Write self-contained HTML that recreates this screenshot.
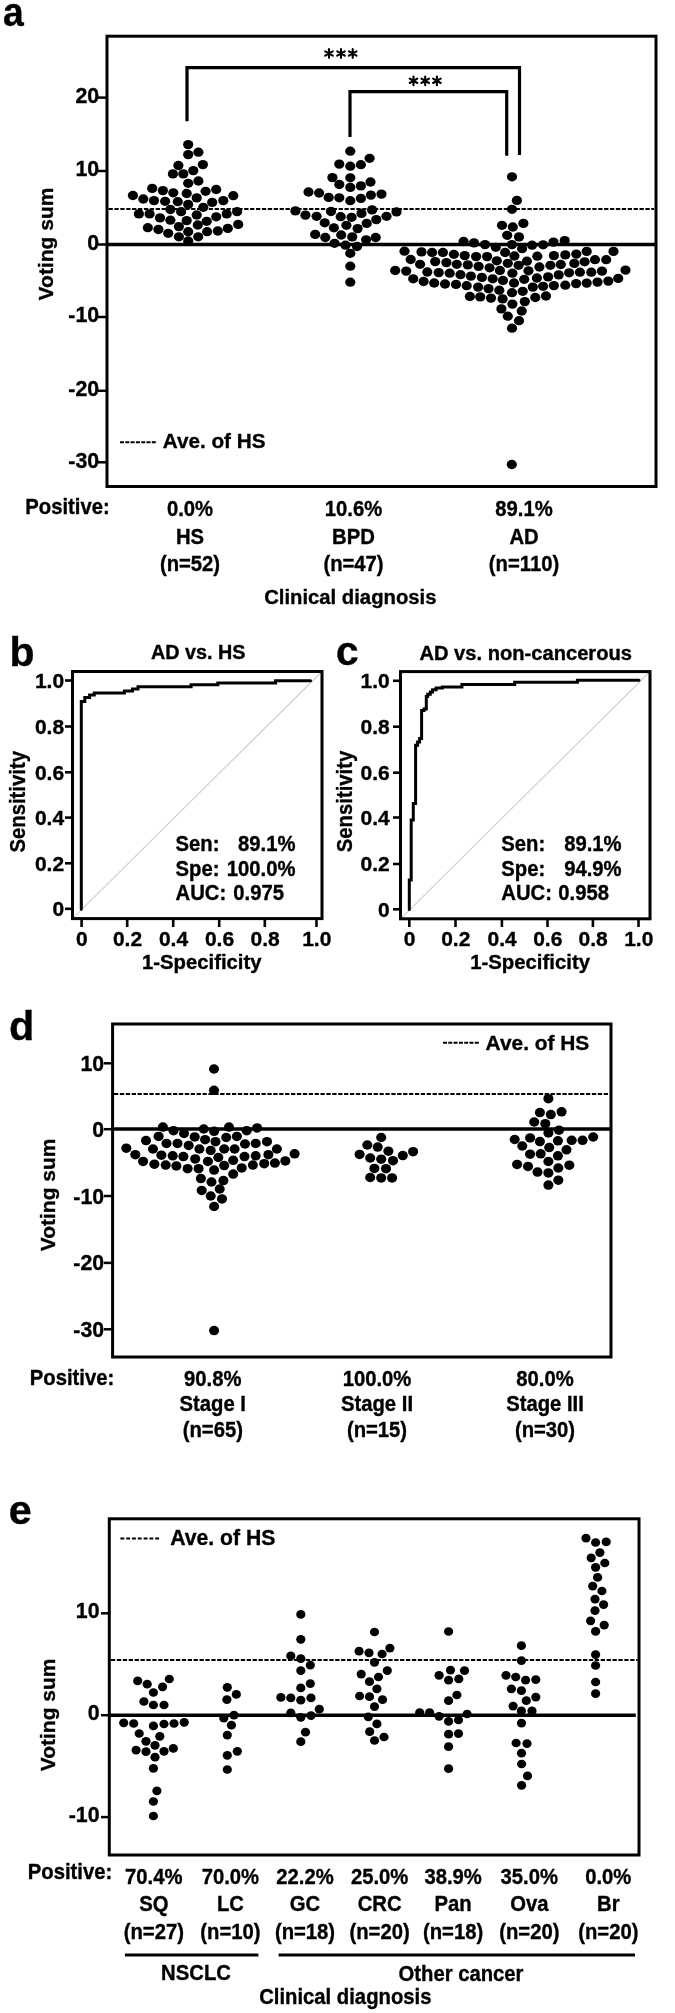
<!DOCTYPE html>
<html><head><meta charset="utf-8"><style>
html,body{margin:0;padding:0;background:#fff;}
svg{display:block;will-change:transform;}
text{font-family:"Liberation Sans", sans-serif;font-weight:bold;fill:#000;stroke:#000;stroke-width:0.35px;}
</style></head><body>
<svg width="675" height="2013" viewBox="0 0 675 2013">
<rect width="675" height="2013" fill="#fff"/>
<rect x="107" y="36.2" width="549" height="450.3" fill="none" stroke="#000" stroke-width="3"/>
<line x1="107" y1="244.5" x2="656" y2="244.5" stroke="#000" stroke-width="3.5" />
<line x1="108.5" y1="209" x2="654" y2="209" stroke="#000" stroke-width="2" stroke-dasharray="4.3 1.6"/>
<line x1="98" y1="97.6" x2="107" y2="97.6" stroke="#000" stroke-width="2.5" />
<line x1="98" y1="171" x2="107" y2="171" stroke="#000" stroke-width="2.5" />
<line x1="98" y1="244.5" x2="107" y2="244.5" stroke="#000" stroke-width="2.5" />
<line x1="98" y1="317" x2="107" y2="317" stroke="#000" stroke-width="2.5" />
<line x1="98" y1="390.8" x2="107" y2="390.8" stroke="#000" stroke-width="2.5" />
<line x1="98" y1="462.3" x2="107" y2="462.3" stroke="#000" stroke-width="2.5" />
<text x="99.1" y="103.0" font-size="21.3" text-anchor="end" >20</text>
<text x="99.1" y="176.4" font-size="21.3" text-anchor="end" >10</text>
<text x="99.1" y="249.9" font-size="21.3" text-anchor="end" >0</text>
<text x="99.1" y="322.4" font-size="21.3" text-anchor="end" >-10</text>
<text x="99.1" y="396.2" font-size="21.3" text-anchor="end" >-20</text>
<text x="99.1" y="467.7" font-size="21.3" text-anchor="end" >-30</text>
<text x="0" y="0" font-size="21" text-anchor="middle" transform="translate(53.4,244) rotate(-90)">Voting sum</text>
<path d="M187,121.3V67.6H519.5V155.1" fill="none" stroke="#000" stroke-width="3.2"/>
<path d="M350,137V91.7H506.7V155.7" fill="none" stroke="#000" stroke-width="3.2"/>
<path d="M329.00,49.15L329.00,57.85M325.23,51.33L332.77,55.67M332.77,51.33L325.23,55.67" stroke="#000" stroke-width="2.1" stroke-linecap="round" fill="none"/>
<path d="M341.00,49.15L341.00,57.85M337.23,51.33L344.77,55.67M344.77,51.33L337.23,55.67" stroke="#000" stroke-width="2.1" stroke-linecap="round" fill="none"/>
<path d="M352.70,49.15L352.70,57.85M348.93,51.33L356.47,55.67M356.47,51.33L348.93,55.67" stroke="#000" stroke-width="2.1" stroke-linecap="round" fill="none"/>
<path d="M413.50,76.45L413.50,85.15M409.73,78.62L417.27,82.97M417.27,78.62L409.73,82.97" stroke="#000" stroke-width="2.1" stroke-linecap="round" fill="none"/>
<path d="M425.20,76.45L425.20,85.15M421.43,78.62L428.97,82.97M428.97,78.62L421.43,82.97" stroke="#000" stroke-width="2.1" stroke-linecap="round" fill="none"/>
<path d="M436.90,76.45L436.90,85.15M433.13,78.62L440.67,82.97M440.67,78.62L433.13,82.97" stroke="#000" stroke-width="2.1" stroke-linecap="round" fill="none"/>
<g fill="#000"><ellipse cx="188.2" cy="144.6" rx="5.1" ry="4.65"/><ellipse cx="198.4" cy="152.2" rx="5.1" ry="4.65"/><ellipse cx="188.2" cy="154.6" rx="5.1" ry="4.65"/><ellipse cx="178.4" cy="165.5" rx="5.1" ry="4.65"/><ellipse cx="202.9" cy="164.6" rx="5.1" ry="4.65"/><ellipse cx="172.9" cy="173.9" rx="5.1" ry="4.65"/><ellipse cx="183.3" cy="173.9" rx="5.1" ry="4.65"/><ellipse cx="193.3" cy="170.6" rx="5.1" ry="4.65"/><ellipse cx="188.2" cy="183.3" rx="5.1" ry="4.65"/><ellipse cx="198.4" cy="181.0" rx="5.1" ry="4.65"/><ellipse cx="152.2" cy="188.4" rx="5.1" ry="4.65"/><ellipse cx="162.9" cy="190.6" rx="5.1" ry="4.65"/><ellipse cx="173.3" cy="192.8" rx="5.1" ry="4.65"/><ellipse cx="186.7" cy="193.5" rx="5.1" ry="4.65"/><ellipse cx="205.6" cy="191.3" rx="5.1" ry="4.65"/><ellipse cx="216.2" cy="189.5" rx="5.1" ry="4.65"/><ellipse cx="132.9" cy="195.5" rx="5.1" ry="4.65"/><ellipse cx="143.3" cy="199.0" rx="5.1" ry="4.65"/><ellipse cx="154.0" cy="200.6" rx="5.1" ry="4.65"/><ellipse cx="165.1" cy="201.3" rx="5.1" ry="4.65"/><ellipse cx="177.8" cy="201.7" rx="5.1" ry="4.65"/><ellipse cx="196.7" cy="197.9" rx="5.1" ry="4.65"/><ellipse cx="188.2" cy="204.4" rx="5.1" ry="4.65"/><ellipse cx="212.2" cy="202.4" rx="5.1" ry="4.65"/><ellipse cx="223.3" cy="200.6" rx="5.1" ry="4.65"/><ellipse cx="233.3" cy="195.7" rx="5.1" ry="4.65"/><ellipse cx="170.4" cy="209.5" rx="5.1" ry="4.65"/><ellipse cx="181.1" cy="211.7" rx="5.1" ry="4.65"/><ellipse cx="203.3" cy="207.3" rx="5.1" ry="4.65"/><ellipse cx="138.9" cy="213.9" rx="5.1" ry="4.65"/><ellipse cx="149.6" cy="213.9" rx="5.1" ry="4.65"/><ellipse cx="160.0" cy="217.9" rx="5.1" ry="4.65"/><ellipse cx="170.4" cy="220.2" rx="5.1" ry="4.65"/><ellipse cx="186.7" cy="220.6" rx="5.1" ry="4.65"/><ellipse cx="196.7" cy="215.0" rx="5.1" ry="4.65"/><ellipse cx="206.7" cy="221.3" rx="5.1" ry="4.65"/><ellipse cx="216.2" cy="216.8" rx="5.1" ry="4.65"/><ellipse cx="226.7" cy="213.9" rx="5.1" ry="4.65"/><ellipse cx="237.1" cy="211.7" rx="5.1" ry="4.65"/><ellipse cx="147.8" cy="227.7" rx="5.1" ry="4.65"/><ellipse cx="158.4" cy="229.5" rx="5.1" ry="4.65"/><ellipse cx="168.2" cy="233.3" rx="5.1" ry="4.65"/><ellipse cx="178.9" cy="226.6" rx="5.1" ry="4.65"/><ellipse cx="178.9" cy="236.8" rx="5.1" ry="4.65"/><ellipse cx="188.2" cy="231.7" rx="5.1" ry="4.65"/><ellipse cx="197.8" cy="225.0" rx="5.1" ry="4.65"/><ellipse cx="198.2" cy="236.8" rx="5.1" ry="4.65"/><ellipse cx="207.1" cy="231.7" rx="5.1" ry="4.65"/><ellipse cx="217.8" cy="231.0" rx="5.1" ry="4.65"/><ellipse cx="227.8" cy="228.4" rx="5.1" ry="4.65"/><ellipse cx="238.2" cy="224.4" rx="5.1" ry="4.65"/><ellipse cx="188.2" cy="241.0" rx="5.1" ry="4.65"/></g>
<g fill="#000"><ellipse cx="350.3" cy="151.2" rx="5.1" ry="4.65"/><ellipse cx="369.6" cy="158.3" rx="5.1" ry="4.65"/><ellipse cx="339.3" cy="164.1" rx="5.1" ry="4.65"/><ellipse cx="350.3" cy="166.2" rx="5.1" ry="4.65"/><ellipse cx="360.9" cy="164.7" rx="5.1" ry="4.65"/><ellipse cx="332.4" cy="177.6" rx="5.1" ry="4.65"/><ellipse cx="350.3" cy="177.8" rx="5.1" ry="4.65"/><ellipse cx="339.3" cy="184.5" rx="5.1" ry="4.65"/><ellipse cx="350.3" cy="187.4" rx="5.1" ry="4.65"/><ellipse cx="360.9" cy="185.9" rx="5.1" ry="4.65"/><ellipse cx="370.5" cy="182.0" rx="5.1" ry="4.65"/><ellipse cx="308.5" cy="192.0" rx="5.1" ry="4.65"/><ellipse cx="319.1" cy="193.0" rx="5.1" ry="4.65"/><ellipse cx="328.7" cy="197.4" rx="5.1" ry="4.65"/><ellipse cx="339.3" cy="197.8" rx="5.1" ry="4.65"/><ellipse cx="350.3" cy="200.7" rx="5.1" ry="4.65"/><ellipse cx="360.9" cy="198.4" rx="5.1" ry="4.65"/><ellipse cx="370.9" cy="195.1" rx="5.1" ry="4.65"/><ellipse cx="381.5" cy="194.1" rx="5.1" ry="4.65"/><ellipse cx="295.4" cy="210.9" rx="5.1" ry="4.65"/><ellipse cx="305.4" cy="215.1" rx="5.1" ry="4.65"/><ellipse cx="316.6" cy="216.3" rx="5.1" ry="4.65"/><ellipse cx="331.0" cy="211.5" rx="5.1" ry="4.65"/><ellipse cx="340.7" cy="216.7" rx="5.1" ry="4.65"/><ellipse cx="351.6" cy="217.3" rx="5.1" ry="4.65"/><ellipse cx="361.5" cy="213.4" rx="5.1" ry="4.65"/><ellipse cx="372.1" cy="209.9" rx="5.1" ry="4.65"/><ellipse cx="386.5" cy="216.3" rx="5.1" ry="4.65"/><ellipse cx="396.5" cy="211.9" rx="5.1" ry="4.65"/><ellipse cx="324.7" cy="222.8" rx="5.1" ry="4.65"/><ellipse cx="333.9" cy="227.8" rx="5.1" ry="4.65"/><ellipse cx="346.4" cy="225.3" rx="5.1" ry="4.65"/><ellipse cx="357.6" cy="228.6" rx="5.1" ry="4.65"/><ellipse cx="366.7" cy="223.4" rx="5.1" ry="4.65"/><ellipse cx="376.3" cy="219.6" rx="5.1" ry="4.65"/><ellipse cx="315.2" cy="234.4" rx="5.1" ry="4.65"/><ellipse cx="325.3" cy="237.5" rx="5.1" ry="4.65"/><ellipse cx="341.2" cy="235.0" rx="5.1" ry="4.65"/><ellipse cx="352.2" cy="236.9" rx="5.1" ry="4.65"/><ellipse cx="366.1" cy="239.8" rx="5.1" ry="4.65"/><ellipse cx="375.7" cy="237.5" rx="5.1" ry="4.65"/><ellipse cx="334.5" cy="243.3" rx="5.1" ry="4.65"/><ellipse cx="345.5" cy="245.2" rx="5.1" ry="4.65"/><ellipse cx="357.0" cy="246.5" rx="5.1" ry="4.65"/><ellipse cx="350.3" cy="253.3" rx="5.1" ry="4.65"/><ellipse cx="350.3" cy="266.2" rx="5.1" ry="4.65"/><ellipse cx="350.3" cy="282.2" rx="5.1" ry="4.65"/></g>
<g fill="#000"><ellipse cx="512.0" cy="176.8" rx="5.1" ry="4.65"/><ellipse cx="516.9" cy="200.4" rx="5.1" ry="4.65"/><ellipse cx="512.0" cy="209.3" rx="5.1" ry="4.65"/><ellipse cx="502.0" cy="225.3" rx="5.1" ry="4.65"/><ellipse cx="512.8" cy="227.0" rx="5.1" ry="4.65"/><ellipse cx="523.4" cy="223.4" rx="5.1" ry="4.65"/><ellipse cx="507.2" cy="235.3" rx="5.1" ry="4.65"/><ellipse cx="519.0" cy="236.9" rx="5.1" ry="4.65"/><ellipse cx="463.6" cy="241.5" rx="5.1" ry="4.65"/><ellipse cx="474.0" cy="242.9" rx="5.1" ry="4.65"/><ellipse cx="485.0" cy="244.6" rx="5.1" ry="4.65"/><ellipse cx="495.8" cy="247.3" rx="5.1" ry="4.65"/><ellipse cx="512.0" cy="244.6" rx="5.1" ry="4.65"/><ellipse cx="522.1" cy="248.7" rx="5.1" ry="4.65"/><ellipse cx="404.5" cy="251.2" rx="5.1" ry="4.65"/><ellipse cx="421.5" cy="251.9" rx="5.1" ry="4.65"/><ellipse cx="432.1" cy="252.5" rx="5.1" ry="4.65"/><ellipse cx="442.9" cy="252.5" rx="5.1" ry="4.65"/><ellipse cx="453.9" cy="254.3" rx="5.1" ry="4.65"/><ellipse cx="464.7" cy="255.6" rx="5.1" ry="4.65"/><ellipse cx="476.1" cy="256.6" rx="5.1" ry="4.65"/><ellipse cx="487.1" cy="256.6" rx="5.1" ry="4.65"/><ellipse cx="505.1" cy="252.5" rx="5.1" ry="4.65"/><ellipse cx="514.4" cy="256.0" rx="5.1" ry="4.65"/><ellipse cx="410.7" cy="259.5" rx="5.1" ry="4.65"/><ellipse cx="420.1" cy="264.3" rx="5.1" ry="4.65"/><ellipse cx="435.2" cy="261.6" rx="5.1" ry="4.65"/><ellipse cx="446.4" cy="262.6" rx="5.1" ry="4.65"/><ellipse cx="456.8" cy="264.3" rx="5.1" ry="4.65"/><ellipse cx="467.8" cy="264.9" rx="5.1" ry="4.65"/><ellipse cx="478.6" cy="266.4" rx="5.1" ry="4.65"/><ellipse cx="489.6" cy="267.8" rx="5.1" ry="4.65"/><ellipse cx="496.8" cy="260.8" rx="5.1" ry="4.65"/><ellipse cx="507.8" cy="263.3" rx="5.1" ry="4.65"/><ellipse cx="518.6" cy="265.3" rx="5.1" ry="4.65"/><ellipse cx="526.9" cy="261.2" rx="5.1" ry="4.65"/><ellipse cx="395.2" cy="270.5" rx="5.1" ry="4.65"/><ellipse cx="406.2" cy="271.1" rx="5.1" ry="4.65"/><ellipse cx="427.3" cy="272.0" rx="5.1" ry="4.65"/><ellipse cx="438.7" cy="272.6" rx="5.1" ry="4.65"/><ellipse cx="449.7" cy="273.2" rx="5.1" ry="4.65"/><ellipse cx="460.5" cy="274.7" rx="5.1" ry="4.65"/><ellipse cx="470.9" cy="276.1" rx="5.1" ry="4.65"/><ellipse cx="481.9" cy="277.4" rx="5.1" ry="4.65"/><ellipse cx="492.7" cy="278.8" rx="5.1" ry="4.65"/><ellipse cx="499.9" cy="270.5" rx="5.1" ry="4.65"/><ellipse cx="512.4" cy="273.2" rx="5.1" ry="4.65"/><ellipse cx="528.5" cy="270.8" rx="5.1" ry="4.65"/><ellipse cx="413.2" cy="278.8" rx="5.1" ry="4.65"/><ellipse cx="423.6" cy="281.5" rx="5.1" ry="4.65"/><ellipse cx="434.2" cy="283.0" rx="5.1" ry="4.65"/><ellipse cx="445.0" cy="284.0" rx="5.1" ry="4.65"/><ellipse cx="456.0" cy="284.4" rx="5.1" ry="4.65"/><ellipse cx="466.7" cy="285.7" rx="5.1" ry="4.65"/><ellipse cx="478.1" cy="287.1" rx="5.1" ry="4.65"/><ellipse cx="488.5" cy="288.6" rx="5.1" ry="4.65"/><ellipse cx="503.0" cy="280.5" rx="5.1" ry="4.65"/><ellipse cx="514.0" cy="283.0" rx="5.1" ry="4.65"/><ellipse cx="524.2" cy="279.3" rx="5.1" ry="4.65"/><ellipse cx="469.9" cy="296.5" rx="5.1" ry="4.65"/><ellipse cx="480.2" cy="296.9" rx="5.1" ry="4.65"/><ellipse cx="491.0" cy="298.1" rx="5.1" ry="4.65"/><ellipse cx="499.3" cy="290.2" rx="5.1" ry="4.65"/><ellipse cx="512.0" cy="292.7" rx="5.1" ry="4.65"/><ellipse cx="522.7" cy="291.3" rx="5.1" ry="4.65"/><ellipse cx="502.6" cy="298.9" rx="5.1" ry="4.65"/><ellipse cx="512.4" cy="304.1" rx="5.1" ry="4.65"/><ellipse cx="524.8" cy="301.6" rx="5.1" ry="4.65"/><ellipse cx="501.4" cy="308.9" rx="5.1" ry="4.65"/><ellipse cx="507.8" cy="316.2" rx="5.1" ry="4.65"/><ellipse cx="521.7" cy="311.0" rx="5.1" ry="4.65"/><ellipse cx="519.0" cy="320.7" rx="5.1" ry="4.65"/><ellipse cx="512.0" cy="328.2" rx="5.1" ry="4.65"/><ellipse cx="532.1" cy="245.2" rx="5.1" ry="4.65"/><ellipse cx="543.1" cy="244.8" rx="5.1" ry="4.65"/><ellipse cx="553.5" cy="242.1" rx="5.1" ry="4.65"/><ellipse cx="564.7" cy="240.6" rx="5.1" ry="4.65"/><ellipse cx="537.3" cy="256.2" rx="5.1" ry="4.65"/><ellipse cx="553.9" cy="255.6" rx="5.1" ry="4.65"/><ellipse cx="565.3" cy="254.9" rx="5.1" ry="4.65"/><ellipse cx="576.3" cy="254.1" rx="5.1" ry="4.65"/><ellipse cx="586.7" cy="251.4" rx="5.1" ry="4.65"/><ellipse cx="613.5" cy="251.4" rx="5.1" ry="4.65"/><ellipse cx="595.0" cy="259.7" rx="5.1" ry="4.65"/><ellipse cx="606.2" cy="259.7" rx="5.1" ry="4.65"/><ellipse cx="539.4" cy="267.0" rx="5.1" ry="4.65"/><ellipse cx="550.4" cy="265.3" rx="5.1" ry="4.65"/><ellipse cx="560.8" cy="264.5" rx="5.1" ry="4.65"/><ellipse cx="574.3" cy="263.4" rx="5.1" ry="4.65"/><ellipse cx="584.6" cy="261.8" rx="5.1" ry="4.65"/><ellipse cx="625.5" cy="270.1" rx="5.1" ry="4.65"/><ellipse cx="602.0" cy="271.1" rx="5.1" ry="4.65"/><ellipse cx="591.3" cy="272.2" rx="5.1" ry="4.65"/><ellipse cx="579.9" cy="272.2" rx="5.1" ry="4.65"/><ellipse cx="569.1" cy="272.8" rx="5.1" ry="4.65"/><ellipse cx="558.7" cy="274.9" rx="5.1" ry="4.65"/><ellipse cx="548.1" cy="276.9" rx="5.1" ry="4.65"/><ellipse cx="536.9" cy="278.0" rx="5.1" ry="4.65"/><ellipse cx="618.2" cy="278.4" rx="5.1" ry="4.65"/><ellipse cx="608.3" cy="281.1" rx="5.1" ry="4.65"/><ellipse cx="597.5" cy="282.1" rx="5.1" ry="4.65"/><ellipse cx="586.7" cy="283.1" rx="5.1" ry="4.65"/><ellipse cx="576.1" cy="283.6" rx="5.1" ry="4.65"/><ellipse cx="565.3" cy="285.2" rx="5.1" ry="4.65"/><ellipse cx="553.9" cy="285.6" rx="5.1" ry="4.65"/><ellipse cx="543.1" cy="286.3" rx="5.1" ry="4.65"/><ellipse cx="532.8" cy="287.1" rx="5.1" ry="4.65"/><ellipse cx="546.0" cy="296.0" rx="5.1" ry="4.65"/><ellipse cx="535.3" cy="297.5" rx="5.1" ry="4.65"/><ellipse cx="511.8" cy="464.5" rx="5.1" ry="4.65"/></g>
<line x1="120" y1="442.2" x2="157" y2="442.2" stroke="#000" stroke-width="2" stroke-dasharray="4 1.3"/>
<text x="162.8" y="447.7" font-size="20.7" text-anchor="start" >Ave. of HS</text>
<text x="0" y="0" font-size="21" text-anchor="start" transform="translate(25.3,513.6) scale(0.965,1.07)" >Positive:</text>
<text x="0" y="0" font-size="21" text-anchor="middle" transform="translate(190,515.6) scale(0.965,1.03)" >0.0%</text>
<text x="0" y="0" font-size="21" text-anchor="middle" transform="translate(190,543.5) scale(0.965,1.06)" >HS</text>
<text x="0" y="0" font-size="21" text-anchor="middle" transform="translate(190,571) scale(0.965,1.03)" >(n=52)</text>
<text x="0" y="0" font-size="21" text-anchor="middle" transform="translate(353.5,515.6) scale(0.965,1.03)" >10.6%</text>
<text x="0" y="0" font-size="21" text-anchor="middle" transform="translate(353.5,543.5) scale(0.965,1.06)" >BPD</text>
<text x="0" y="0" font-size="21" text-anchor="middle" transform="translate(353.5,571) scale(0.965,1.03)" >(n=47)</text>
<text x="0" y="0" font-size="21" text-anchor="middle" transform="translate(524,515.6) scale(0.965,1.03)" >89.1%</text>
<text x="0" y="0" font-size="21" text-anchor="middle" transform="translate(524,543.5) scale(0.965,1.06)" >AD</text>
<text x="0" y="0" font-size="21" text-anchor="middle" transform="translate(524,571) scale(0.965,1.03)" >(n=110)</text>
<text x="0" y="0" font-size="21" text-anchor="middle" transform="translate(350.3,603.8) scale(0.965,1.0)" >Clinical diagnosis</text>
<line x1="74.0" y1="917.1" x2="320.5" y2="673.0" stroke="#cdcdcd" stroke-width="1.1"/>
<rect x="72.5" y="671.5" width="249.5" height="247.10000000000002" fill="none" stroke="#000" stroke-width="3"/>
<line x1="65.0" y1="680.5" x2="72.5" y2="680.5" stroke="#000" stroke-width="2.6" />
<text x="64.1" y="687.9" font-size="21" text-anchor="end" >1.0</text>
<line x1="65.0" y1="726.5" x2="72.5" y2="726.5" stroke="#000" stroke-width="2.6" />
<text x="64.1" y="733.9" font-size="21" text-anchor="end" >0.8</text>
<line x1="65.0" y1="772.3" x2="72.5" y2="772.3" stroke="#000" stroke-width="2.6" />
<text x="64.1" y="779.6999999999999" font-size="21" text-anchor="end" >0.6</text>
<line x1="65.0" y1="817.6" x2="72.5" y2="817.6" stroke="#000" stroke-width="2.6" />
<text x="64.1" y="825.0" font-size="21" text-anchor="end" >0.4</text>
<line x1="65.0" y1="863.3" x2="72.5" y2="863.3" stroke="#000" stroke-width="2.6" />
<text x="64.1" y="870.6999999999999" font-size="21" text-anchor="end" >0.2</text>
<line x1="65.0" y1="908.8" x2="72.5" y2="908.8" stroke="#000" stroke-width="2.6" />
<text x="64.1" y="916.1999999999999" font-size="21" text-anchor="end" >0</text>
<line x1="81.6" y1="918.6" x2="81.6" y2="927" stroke="#000" stroke-width="2.6" />
<text x="81.89999999999999" y="945.6" font-size="21" text-anchor="middle" >0</text>
<line x1="127.2" y1="918.6" x2="127.2" y2="927" stroke="#000" stroke-width="2.6" />
<text x="127.5" y="945.6" font-size="21" text-anchor="middle" >0.2</text>
<line x1="173.2" y1="918.6" x2="173.2" y2="927" stroke="#000" stroke-width="2.6" />
<text x="173.5" y="945.6" font-size="21" text-anchor="middle" >0.4</text>
<line x1="219.2" y1="918.6" x2="219.2" y2="927" stroke="#000" stroke-width="2.6" />
<text x="219.5" y="945.6" font-size="21" text-anchor="middle" >0.6</text>
<line x1="264.8" y1="918.6" x2="264.8" y2="927" stroke="#000" stroke-width="2.6" />
<text x="265.1" y="945.6" font-size="21" text-anchor="middle" >0.8</text>
<line x1="316.5" y1="918.6" x2="316.5" y2="927" stroke="#000" stroke-width="2.6" />
<text x="316.8" y="945.6" font-size="21" text-anchor="middle" >1.0</text>
<path d="M81.3,909.3V701.4H84.8V697.5H89.6V695.1H94.3V693.1H124.4V691.1H132.5V689H138V686.8H191.1V684.8H217.8V683H275.6V680.8H310.5" fill="none" stroke="#000" stroke-width="3" stroke-linejoin="miter" stroke-linecap="round"/>
<text x="151" y="659.3" font-size="19.5" text-anchor="start" textLength="94.5" lengthAdjust="spacingAndGlyphs" >AD vs. HS</text>
<text x="0" y="0" font-size="22" text-anchor="middle" textLength="101.5" lengthAdjust="spacingAndGlyphs" transform="translate(25.3,801.8) rotate(-90)">Sensitivity</text>
<text x="142" y="969" font-size="19.5" text-anchor="start" textLength="119.5" lengthAdjust="spacingAndGlyphs" >1-Specificity</text>
<text x="0" y="0" font-size="21" text-anchor="start" transform="translate(175.6,850.8) scale(0.965,1.06)" >Sen:</text>
<text x="0" y="0" font-size="21" text-anchor="end" transform="translate(295.5,850.8) scale(0.965,1.06)" >89.1%</text>
<text x="0" y="0" font-size="21" text-anchor="start" transform="translate(175.6,875.5) scale(0.965,1.06)" >Spe:</text>
<text x="0" y="0" font-size="21" text-anchor="end" transform="translate(295.5,875.5) scale(0.965,1.06)" >100.0%</text>
<text x="0" y="0" font-size="21" text-anchor="start" transform="translate(175.6,900.3) scale(0.965,1.06)" >AUC:</text>
<text x="0" y="0" font-size="21" text-anchor="end" transform="translate(284,900.3) scale(0.965,1.06)" >0.975</text>
<line x1="402.0" y1="917.3" x2="648.5" y2="673.1" stroke="#cdcdcd" stroke-width="1.1"/>
<rect x="400.5" y="671.6" width="249.5" height="247.19999999999993" fill="none" stroke="#000" stroke-width="3"/>
<line x1="393.0" y1="680.8" x2="400.5" y2="680.8" stroke="#000" stroke-width="2.6" />
<text x="389.8" y="688.1999999999999" font-size="21" text-anchor="end" >1.0</text>
<line x1="393.0" y1="726.7" x2="400.5" y2="726.7" stroke="#000" stroke-width="2.6" />
<text x="389.8" y="734.1" font-size="21" text-anchor="end" >0.8</text>
<line x1="393.0" y1="772.7" x2="400.5" y2="772.7" stroke="#000" stroke-width="2.6" />
<text x="389.8" y="780.1" font-size="21" text-anchor="end" >0.6</text>
<line x1="393.0" y1="817.5" x2="400.5" y2="817.5" stroke="#000" stroke-width="2.6" />
<text x="389.8" y="824.9" font-size="21" text-anchor="end" >0.4</text>
<line x1="393.0" y1="864" x2="400.5" y2="864" stroke="#000" stroke-width="2.6" />
<text x="389.8" y="871.4" font-size="21" text-anchor="end" >0.2</text>
<line x1="393.0" y1="909.3" x2="400.5" y2="909.3" stroke="#000" stroke-width="2.6" />
<text x="389.8" y="916.6999999999999" font-size="21" text-anchor="end" >0</text>
<line x1="409.3" y1="918.8" x2="409.3" y2="927" stroke="#000" stroke-width="2.6" />
<text x="409.6" y="945.6" font-size="21" text-anchor="middle" >0</text>
<line x1="455.5" y1="918.8" x2="455.5" y2="927" stroke="#000" stroke-width="2.6" />
<text x="455.8" y="945.6" font-size="21" text-anchor="middle" >0.2</text>
<line x1="501.9" y1="918.8" x2="501.9" y2="927" stroke="#000" stroke-width="2.6" />
<text x="502.2" y="945.6" font-size="21" text-anchor="middle" >0.4</text>
<line x1="547.5" y1="918.8" x2="547.5" y2="927" stroke="#000" stroke-width="2.6" />
<text x="547.8" y="945.6" font-size="21" text-anchor="middle" >0.6</text>
<line x1="592.9" y1="918.8" x2="592.9" y2="927" stroke="#000" stroke-width="2.6" />
<text x="593.1999999999999" y="945.6" font-size="21" text-anchor="middle" >0.8</text>
<line x1="638.5" y1="918.8" x2="638.5" y2="927" stroke="#000" stroke-width="2.6" />
<text x="638.8" y="945.6" font-size="21" text-anchor="middle" >1.0</text>
<path d="M409.3,909.5V880H411.2V820H413.3V803.5H415.6V745.3H417.6V742H419.6V738.5H421.6V710.5H424V709H426.3V696.4H427.7V694.2H430.3V692H432.6V689.8H436.1V688H442.3V687.1H461.9V684.6H514.7V682.2H577.4V680.2H639" fill="none" stroke="#000" stroke-width="3" stroke-linejoin="miter" stroke-linecap="round"/>
<text x="419.4" y="659.9" font-size="19.5" text-anchor="start" textLength="212.6" lengthAdjust="spacingAndGlyphs" >AD vs. non-cancerous</text>
<text x="0" y="0" font-size="22" text-anchor="middle" textLength="101.5" lengthAdjust="spacingAndGlyphs" transform="translate(352.4,801.5) rotate(-90)">Sensitivity</text>
<text x="470.2" y="969" font-size="19.5" text-anchor="start" textLength="119.8" lengthAdjust="spacingAndGlyphs" >1-Specificity</text>
<text x="0" y="0" font-size="21" text-anchor="start" transform="translate(501.3,850.8) scale(0.965,1.06)" >Sen:</text>
<text x="0" y="0" font-size="21" text-anchor="end" transform="translate(621.6,850.8) scale(0.965,1.06)" >89.1%</text>
<text x="0" y="0" font-size="21" text-anchor="start" transform="translate(501.3,875.5) scale(0.965,1.06)" >Spe:</text>
<text x="0" y="0" font-size="21" text-anchor="end" transform="translate(621.6,875.5) scale(0.965,1.06)" >94.9%</text>
<text x="0" y="0" font-size="21" text-anchor="start" transform="translate(501.3,900.3) scale(0.965,1.06)" >AUC:</text>
<text x="0" y="0" font-size="21" text-anchor="end" transform="translate(609,900.3) scale(0.965,1.06)" >0.958</text>
<rect x="112.6" y="1024" width="498.4" height="333" fill="none" stroke="#000" stroke-width="3"/>
<line x1="112.6" y1="1129" x2="611" y2="1129" stroke="#000" stroke-width="3.5" />
<line x1="114" y1="1094" x2="608" y2="1094" stroke="#000" stroke-width="2" stroke-dasharray="4.3 1.6"/>
<line x1="104" y1="1063.3" x2="112.6" y2="1063.3" stroke="#000" stroke-width="2.5" />
<text x="104.1" y="1070.8" font-size="21.3" text-anchor="end" >10</text>
<line x1="104" y1="1129.2" x2="112.6" y2="1129.2" stroke="#000" stroke-width="2.5" />
<text x="104.1" y="1136.7" font-size="21.3" text-anchor="end" >0</text>
<line x1="104" y1="1196" x2="112.6" y2="1196" stroke="#000" stroke-width="2.5" />
<text x="104.1" y="1203.5" font-size="21.3" text-anchor="end" >-10</text>
<line x1="104" y1="1262.9" x2="112.6" y2="1262.9" stroke="#000" stroke-width="2.5" />
<text x="104.1" y="1270.4" font-size="21.3" text-anchor="end" >-20</text>
<line x1="104" y1="1329.3" x2="112.6" y2="1329.3" stroke="#000" stroke-width="2.5" />
<text x="104.1" y="1336.8" font-size="21.3" text-anchor="end" >-30</text>
<text x="0" y="0" font-size="21" text-anchor="middle" transform="translate(55.3,1194.9) rotate(-90)">Voting sum</text>
<g fill="#000"><ellipse cx="162.9" cy="1127.1" rx="5.05" ry="4.75"/><ellipse cx="173.5" cy="1130.7" rx="5.05" ry="4.75"/><ellipse cx="184.0" cy="1133.5" rx="5.05" ry="4.75"/><ellipse cx="203.7" cy="1129.0" rx="5.05" ry="4.75"/><ellipse cx="214.1" cy="1131.3" rx="5.05" ry="4.75"/><ellipse cx="229.0" cy="1127.1" rx="5.05" ry="4.75"/><ellipse cx="246.7" cy="1130.7" rx="5.05" ry="4.75"/><ellipse cx="257.1" cy="1127.9" rx="5.05" ry="4.75"/><ellipse cx="146.0" cy="1140.6" rx="5.05" ry="4.75"/><ellipse cx="158.6" cy="1136.4" rx="5.05" ry="4.75"/><ellipse cx="166.5" cy="1143.4" rx="5.05" ry="4.75"/><ellipse cx="177.5" cy="1143.4" rx="5.05" ry="4.75"/><ellipse cx="194.7" cy="1136.9" rx="5.05" ry="4.75"/><ellipse cx="188.7" cy="1145.4" rx="5.05" ry="4.75"/><ellipse cx="205.1" cy="1139.7" rx="5.05" ry="4.75"/><ellipse cx="215.5" cy="1141.7" rx="5.05" ry="4.75"/><ellipse cx="226.2" cy="1137.5" rx="5.05" ry="4.75"/><ellipse cx="236.9" cy="1136.4" rx="5.05" ry="4.75"/><ellipse cx="245.0" cy="1144.0" rx="5.05" ry="4.75"/><ellipse cx="255.7" cy="1143.4" rx="5.05" ry="4.75"/><ellipse cx="267.0" cy="1141.7" rx="5.05" ry="4.75"/><ellipse cx="126.3" cy="1148.2" rx="5.05" ry="4.75"/><ellipse cx="153.0" cy="1149.0" rx="5.05" ry="4.75"/><ellipse cx="199.4" cy="1149.0" rx="5.05" ry="4.75"/><ellipse cx="210.7" cy="1150.4" rx="5.05" ry="4.75"/><ellipse cx="224.2" cy="1149.0" rx="5.05" ry="4.75"/><ellipse cx="234.6" cy="1149.0" rx="5.05" ry="4.75"/><ellipse cx="276.9" cy="1149.0" rx="5.05" ry="4.75"/><ellipse cx="135.3" cy="1154.7" rx="5.05" ry="4.75"/><ellipse cx="161.4" cy="1155.2" rx="5.05" ry="4.75"/><ellipse cx="172.7" cy="1155.8" rx="5.05" ry="4.75"/><ellipse cx="183.4" cy="1156.6" rx="5.05" ry="4.75"/><ellipse cx="195.2" cy="1158.9" rx="5.05" ry="4.75"/><ellipse cx="218.3" cy="1157.5" rx="5.05" ry="4.75"/><ellipse cx="244.5" cy="1156.6" rx="5.05" ry="4.75"/><ellipse cx="255.7" cy="1155.8" rx="5.05" ry="4.75"/><ellipse cx="268.4" cy="1154.7" rx="5.05" ry="4.75"/><ellipse cx="294.6" cy="1153.8" rx="5.05" ry="4.75"/><ellipse cx="143.1" cy="1161.4" rx="5.05" ry="4.75"/><ellipse cx="154.4" cy="1164.2" rx="5.05" ry="4.75"/><ellipse cx="165.7" cy="1165.1" rx="5.05" ry="4.75"/><ellipse cx="176.4" cy="1165.9" rx="5.05" ry="4.75"/><ellipse cx="187.6" cy="1168.7" rx="5.05" ry="4.75"/><ellipse cx="207.9" cy="1161.4" rx="5.05" ry="4.75"/><ellipse cx="233.2" cy="1160.3" rx="5.05" ry="4.75"/><ellipse cx="252.9" cy="1165.1" rx="5.05" ry="4.75"/><ellipse cx="264.2" cy="1163.7" rx="5.05" ry="4.75"/><ellipse cx="274.9" cy="1163.1" rx="5.05" ry="4.75"/><ellipse cx="285.3" cy="1160.9" rx="5.05" ry="4.75"/><ellipse cx="198.6" cy="1168.7" rx="5.05" ry="4.75"/><ellipse cx="214.1" cy="1170.1" rx="5.05" ry="4.75"/><ellipse cx="224.2" cy="1165.6" rx="5.05" ry="4.75"/><ellipse cx="241.7" cy="1167.9" rx="5.05" ry="4.75"/><ellipse cx="233.2" cy="1174.1" rx="5.05" ry="4.75"/><ellipse cx="200.9" cy="1178.6" rx="5.05" ry="4.75"/><ellipse cx="211.5" cy="1182.0" rx="5.05" ry="4.75"/><ellipse cx="223.4" cy="1180.6" rx="5.05" ry="4.75"/><ellipse cx="201.7" cy="1190.4" rx="5.05" ry="4.75"/><ellipse cx="219.7" cy="1189.0" rx="5.05" ry="4.75"/><ellipse cx="210.7" cy="1196.0" rx="5.05" ry="4.75"/><ellipse cx="222.0" cy="1198.9" rx="5.05" ry="4.75"/><ellipse cx="214.1" cy="1206.5" rx="5.05" ry="4.75"/><ellipse cx="214.0" cy="1069.0" rx="5.05" ry="4.75"/><ellipse cx="214.0" cy="1090.3" rx="5.05" ry="4.75"/><ellipse cx="214.1" cy="1330.6" rx="5.05" ry="4.75"/></g>
<g fill="#000"><ellipse cx="381.2" cy="1137.5" rx="5.05" ry="4.75"/><ellipse cx="367.3" cy="1145.0" rx="5.05" ry="4.75"/><ellipse cx="377.7" cy="1147.1" rx="5.05" ry="4.75"/><ellipse cx="388.4" cy="1151.2" rx="5.05" ry="4.75"/><ellipse cx="359.6" cy="1154.4" rx="5.05" ry="4.75"/><ellipse cx="370.2" cy="1158.0" rx="5.05" ry="4.75"/><ellipse cx="381.2" cy="1159.2" rx="5.05" ry="4.75"/><ellipse cx="393.0" cy="1160.7" rx="5.05" ry="4.75"/><ellipse cx="402.8" cy="1155.6" rx="5.05" ry="4.75"/><ellipse cx="413.1" cy="1151.7" rx="5.05" ry="4.75"/><ellipse cx="374.4" cy="1168.4" rx="5.05" ry="4.75"/><ellipse cx="386.0" cy="1168.7" rx="5.05" ry="4.75"/><ellipse cx="370.2" cy="1177.5" rx="5.05" ry="4.75"/><ellipse cx="381.2" cy="1177.9" rx="5.05" ry="4.75"/><ellipse cx="392.1" cy="1177.9" rx="5.05" ry="4.75"/></g>
<g fill="#000"><ellipse cx="548.4" cy="1098.7" rx="5.05" ry="4.75"/><ellipse cx="539.9" cy="1112.6" rx="5.05" ry="4.75"/><ellipse cx="550.8" cy="1114.6" rx="5.05" ry="4.75"/><ellipse cx="561.6" cy="1111.8" rx="5.05" ry="4.75"/><ellipse cx="534.2" cy="1122.0" rx="5.05" ry="4.75"/><ellipse cx="545.3" cy="1123.7" rx="5.05" ry="4.75"/><ellipse cx="548.4" cy="1133.0" rx="5.05" ry="4.75"/><ellipse cx="559.0" cy="1130.2" rx="5.05" ry="4.75"/><ellipse cx="514.7" cy="1139.5" rx="5.05" ry="4.75"/><ellipse cx="530.1" cy="1137.9" rx="5.05" ry="4.75"/><ellipse cx="539.9" cy="1141.6" rx="5.05" ry="4.75"/><ellipse cx="557.9" cy="1140.8" rx="5.05" ry="4.75"/><ellipse cx="571.7" cy="1140.3" rx="5.05" ry="4.75"/><ellipse cx="582.6" cy="1140.3" rx="5.05" ry="4.75"/><ellipse cx="593.2" cy="1137.0" rx="5.05" ry="4.75"/><ellipse cx="522.3" cy="1146.0" rx="5.05" ry="4.75"/><ellipse cx="549.2" cy="1147.6" rx="5.05" ry="4.75"/><ellipse cx="566.5" cy="1149.8" rx="5.05" ry="4.75"/><ellipse cx="530.1" cy="1154.2" rx="5.05" ry="4.75"/><ellipse cx="540.7" cy="1153.8" rx="5.05" ry="4.75"/><ellipse cx="557.9" cy="1155.8" rx="5.05" ry="4.75"/><ellipse cx="548.4" cy="1161.5" rx="5.05" ry="4.75"/><ellipse cx="517.1" cy="1164.4" rx="5.05" ry="4.75"/><ellipse cx="528.0" cy="1166.4" rx="5.05" ry="4.75"/><ellipse cx="537.5" cy="1172.1" rx="5.05" ry="4.75"/><ellipse cx="548.4" cy="1172.9" rx="5.05" ry="4.75"/><ellipse cx="558.3" cy="1168.0" rx="5.05" ry="4.75"/><ellipse cx="569.3" cy="1165.2" rx="5.05" ry="4.75"/><ellipse cx="558.3" cy="1180.2" rx="5.05" ry="4.75"/><ellipse cx="548.4" cy="1185.1" rx="5.05" ry="4.75"/></g>
<line x1="443" y1="1042.8" x2="479.4" y2="1042.8" stroke="#000" stroke-width="2" stroke-dasharray="4 1.3"/>
<text x="485.6" y="1050.4" font-size="20.9" text-anchor="start" >Ave. of HS</text>
<text x="0" y="0" font-size="21" text-anchor="start" transform="translate(29.8,1385.2) scale(0.965,1.06)" >Positive:</text>
<text x="0" y="0" font-size="21" text-anchor="middle" transform="translate(212.8,1385.5) scale(0.965,1.02)" >90.8%</text>
<text x="0" y="0" font-size="21" text-anchor="middle" transform="translate(212.8,1410.6) scale(0.965,1.05)" >Stage I</text>
<text x="0" y="0" font-size="21" text-anchor="middle" transform="translate(212.8,1436.6) scale(0.965,1.02)" >(n=65)</text>
<text x="0" y="0" font-size="21" text-anchor="middle" transform="translate(377,1385.5) scale(0.965,1.02)" >100.0%</text>
<text x="0" y="0" font-size="21" text-anchor="middle" transform="translate(377,1410.6) scale(0.965,1.05)" >Stage II</text>
<text x="0" y="0" font-size="21" text-anchor="middle" transform="translate(377,1436.6) scale(0.965,1.02)" >(n=15)</text>
<text x="0" y="0" font-size="21" text-anchor="middle" transform="translate(545,1385.5) scale(0.965,1.02)" >80.0%</text>
<text x="0" y="0" font-size="21" text-anchor="middle" transform="translate(545,1410.6) scale(0.965,1.05)" >Stage III</text>
<text x="0" y="0" font-size="21" text-anchor="middle" transform="translate(545,1436.6) scale(0.965,1.02)" >(n=30)</text>
<rect x="109.3" y="1518.8" width="529.7" height="336.20000000000005" fill="none" stroke="#000" stroke-width="3"/>
<line x1="109.3" y1="1715.3" x2="635.8" y2="1715.3" stroke="#000" stroke-width="3.4" />
<line x1="111" y1="1660" x2="637.5" y2="1660" stroke="#000" stroke-width="2" stroke-dasharray="4.3 1.6"/>
<line x1="101" y1="1613.3" x2="109.3" y2="1613.3" stroke="#000" stroke-width="2.5" />
<text x="99.5" y="1618.3" font-size="21.3" text-anchor="end" >10</text>
<line x1="101" y1="1715.2" x2="109.3" y2="1715.2" stroke="#000" stroke-width="2.5" />
<text x="99.5" y="1720.2" font-size="21.3" text-anchor="end" >0</text>
<line x1="101" y1="1817.1" x2="109.3" y2="1817.1" stroke="#000" stroke-width="2.5" />
<text x="99.5" y="1822.1" font-size="21.3" text-anchor="end" >-10</text>
<text x="0" y="0" font-size="21" text-anchor="middle" transform="translate(55,1714.9) rotate(-90)">Voting sum</text>
<g fill="#000"><ellipse cx="137.7" cy="1680.9" rx="4.6" ry="4.35"/><ellipse cx="147.2" cy="1684.2" rx="4.6" ry="4.35"/><ellipse cx="153.4" cy="1692.5" rx="4.6" ry="4.35"/><ellipse cx="162.6" cy="1686.8" rx="4.6" ry="4.35"/><ellipse cx="169.3" cy="1679.0" rx="4.6" ry="4.35"/><ellipse cx="143.9" cy="1701.5" rx="4.6" ry="4.35"/><ellipse cx="153.4" cy="1705.0" rx="4.6" ry="4.35"/><ellipse cx="164.0" cy="1705.0" rx="4.6" ry="4.35"/><ellipse cx="123.7" cy="1722.8" rx="4.6" ry="4.35"/><ellipse cx="133.7" cy="1723.5" rx="4.6" ry="4.35"/><ellipse cx="153.4" cy="1725.9" rx="4.6" ry="4.35"/><ellipse cx="164.0" cy="1724.0" rx="4.6" ry="4.35"/><ellipse cx="174.0" cy="1723.5" rx="4.6" ry="4.35"/><ellipse cx="184.2" cy="1722.3" rx="4.6" ry="4.35"/><ellipse cx="139.2" cy="1733.5" rx="4.6" ry="4.35"/><ellipse cx="159.8" cy="1736.3" rx="4.6" ry="4.35"/><ellipse cx="146.0" cy="1741.3" rx="4.6" ry="4.35"/><ellipse cx="155.0" cy="1745.3" rx="4.6" ry="4.35"/><ellipse cx="136.1" cy="1750.1" rx="4.6" ry="4.35"/><ellipse cx="146.0" cy="1751.7" rx="4.6" ry="4.35"/><ellipse cx="164.0" cy="1751.3" rx="4.6" ry="4.35"/><ellipse cx="173.3" cy="1748.4" rx="4.6" ry="4.35"/><ellipse cx="155.0" cy="1757.2" rx="4.6" ry="4.35"/><ellipse cx="153.4" cy="1768.3" rx="4.6" ry="4.35"/><ellipse cx="156.9" cy="1790.8" rx="4.6" ry="4.35"/><ellipse cx="153.4" cy="1801.5" rx="4.6" ry="4.35"/><ellipse cx="153.4" cy="1816.0" rx="4.6" ry="4.35"/><ellipse cx="227.3" cy="1687.3" rx="4.6" ry="4.35"/><ellipse cx="236.3" cy="1694.4" rx="4.6" ry="4.35"/><ellipse cx="226.9" cy="1699.6" rx="4.6" ry="4.35"/><ellipse cx="223.8" cy="1718.1" rx="4.6" ry="4.35"/><ellipse cx="234.0" cy="1715.2" rx="4.6" ry="4.35"/><ellipse cx="231.4" cy="1725.2" rx="4.6" ry="4.35"/><ellipse cx="227.3" cy="1735.1" rx="4.6" ry="4.35"/><ellipse cx="227.3" cy="1755.3" rx="4.6" ry="4.35"/><ellipse cx="237.3" cy="1751.3" rx="4.6" ry="4.35"/><ellipse cx="227.3" cy="1769.5" rx="4.6" ry="4.35"/><ellipse cx="300.8" cy="1614.4" rx="4.6" ry="4.35"/><ellipse cx="300.8" cy="1639.3" rx="4.6" ry="4.35"/><ellipse cx="290.8" cy="1655.9" rx="4.6" ry="4.35"/><ellipse cx="300.8" cy="1658.7" rx="4.6" ry="4.35"/><ellipse cx="310.3" cy="1665.1" rx="4.6" ry="4.35"/><ellipse cx="300.8" cy="1670.6" rx="4.6" ry="4.35"/><ellipse cx="310.3" cy="1683.6" rx="4.6" ry="4.35"/><ellipse cx="300.8" cy="1687.9" rx="4.6" ry="4.35"/><ellipse cx="280.9" cy="1697.4" rx="4.6" ry="4.35"/><ellipse cx="290.8" cy="1697.9" rx="4.6" ry="4.35"/><ellipse cx="300.8" cy="1700.2" rx="4.6" ry="4.35"/><ellipse cx="311.0" cy="1697.9" rx="4.6" ry="4.35"/><ellipse cx="319.3" cy="1709.2" rx="4.6" ry="4.35"/><ellipse cx="290.8" cy="1712.8" rx="4.6" ry="4.35"/><ellipse cx="300.8" cy="1717.3" rx="4.6" ry="4.35"/><ellipse cx="311.0" cy="1715.6" rx="4.6" ry="4.35"/><ellipse cx="305.5" cy="1732.2" rx="4.6" ry="4.35"/><ellipse cx="300.8" cy="1741.7" rx="4.6" ry="4.35"/><ellipse cx="374.5" cy="1632.0" rx="4.6" ry="4.35"/><ellipse cx="359.1" cy="1651.2" rx="4.6" ry="4.35"/><ellipse cx="369.0" cy="1652.8" rx="4.6" ry="4.35"/><ellipse cx="382.1" cy="1654.0" rx="4.6" ry="4.35"/><ellipse cx="389.9" cy="1648.1" rx="4.6" ry="4.35"/><ellipse cx="374.5" cy="1662.3" rx="4.6" ry="4.35"/><ellipse cx="361.2" cy="1674.1" rx="4.6" ry="4.35"/><ellipse cx="378.5" cy="1677.0" rx="4.6" ry="4.35"/><ellipse cx="387.3" cy="1670.6" rx="4.6" ry="4.35"/><ellipse cx="369.5" cy="1681.7" rx="4.6" ry="4.35"/><ellipse cx="376.9" cy="1688.8" rx="4.6" ry="4.35"/><ellipse cx="359.6" cy="1696.0" rx="4.6" ry="4.35"/><ellipse cx="369.5" cy="1696.7" rx="4.6" ry="4.35"/><ellipse cx="382.5" cy="1699.7" rx="4.6" ry="4.35"/><ellipse cx="374.5" cy="1706.6" rx="4.6" ry="4.35"/><ellipse cx="368.3" cy="1716.8" rx="4.6" ry="4.35"/><ellipse cx="376.9" cy="1723.9" rx="4.6" ry="4.35"/><ellipse cx="369.7" cy="1731.7" rx="4.6" ry="4.35"/><ellipse cx="384.0" cy="1737.0" rx="4.6" ry="4.35"/><ellipse cx="374.5" cy="1740.5" rx="4.6" ry="4.35"/><ellipse cx="448.6" cy="1631.5" rx="4.6" ry="4.35"/><ellipse cx="450.5" cy="1670.1" rx="4.6" ry="4.35"/><ellipse cx="464.5" cy="1670.6" rx="4.6" ry="4.35"/><ellipse cx="439.1" cy="1675.3" rx="4.6" ry="4.35"/><ellipse cx="448.6" cy="1680.1" rx="4.6" ry="4.35"/><ellipse cx="458.8" cy="1678.9" rx="4.6" ry="4.35"/><ellipse cx="456.9" cy="1695.0" rx="4.6" ry="4.35"/><ellipse cx="448.6" cy="1700.7" rx="4.6" ry="4.35"/><ellipse cx="419.7" cy="1712.5" rx="4.6" ry="4.35"/><ellipse cx="429.6" cy="1712.5" rx="4.6" ry="4.35"/><ellipse cx="439.1" cy="1716.3" rx="4.6" ry="4.35"/><ellipse cx="467.1" cy="1714.0" rx="4.6" ry="4.35"/><ellipse cx="448.6" cy="1721.4" rx="4.6" ry="4.35"/><ellipse cx="458.5" cy="1720.0" rx="4.6" ry="4.35"/><ellipse cx="448.6" cy="1734.2" rx="4.6" ry="4.35"/><ellipse cx="458.5" cy="1733.6" rx="4.6" ry="4.35"/><ellipse cx="448.6" cy="1746.7" rx="4.6" ry="4.35"/><ellipse cx="448.6" cy="1768.7" rx="4.6" ry="4.35"/><ellipse cx="521.4" cy="1645.7" rx="4.6" ry="4.35"/><ellipse cx="521.4" cy="1660.6" rx="4.6" ry="4.35"/><ellipse cx="506.0" cy="1675.3" rx="4.6" ry="4.35"/><ellipse cx="515.7" cy="1677.0" rx="4.6" ry="4.35"/><ellipse cx="525.6" cy="1680.1" rx="4.6" ry="4.35"/><ellipse cx="535.8" cy="1679.6" rx="4.6" ry="4.35"/><ellipse cx="511.4" cy="1688.8" rx="4.6" ry="4.35"/><ellipse cx="521.4" cy="1690.7" rx="4.6" ry="4.35"/><ellipse cx="526.3" cy="1700.7" rx="4.6" ry="4.35"/><ellipse cx="535.8" cy="1697.1" rx="4.6" ry="4.35"/><ellipse cx="513.1" cy="1706.1" rx="4.6" ry="4.35"/><ellipse cx="521.4" cy="1710.9" rx="4.6" ry="4.35"/><ellipse cx="532.0" cy="1710.9" rx="4.6" ry="4.35"/><ellipse cx="521.5" cy="1723.1" rx="4.6" ry="4.35"/><ellipse cx="516.1" cy="1743.0" rx="4.6" ry="4.35"/><ellipse cx="527.0" cy="1743.6" rx="4.6" ry="4.35"/><ellipse cx="521.5" cy="1753.2" rx="4.6" ry="4.35"/><ellipse cx="521.6" cy="1764.0" rx="4.6" ry="4.35"/><ellipse cx="527.5" cy="1775.9" rx="4.6" ry="4.35"/><ellipse cx="521.6" cy="1785.3" rx="4.6" ry="4.35"/><ellipse cx="586.0" cy="1538.1" rx="4.6" ry="4.35"/><ellipse cx="595.6" cy="1542.5" rx="4.6" ry="4.35"/><ellipse cx="606.2" cy="1541.9" rx="4.6" ry="4.35"/><ellipse cx="599.9" cy="1552.6" rx="4.6" ry="4.35"/><ellipse cx="591.2" cy="1557.8" rx="4.6" ry="4.35"/><ellipse cx="604.8" cy="1563.0" rx="4.6" ry="4.35"/><ellipse cx="595.6" cy="1567.3" rx="4.6" ry="4.35"/><ellipse cx="597.6" cy="1577.4" rx="4.6" ry="4.35"/><ellipse cx="592.7" cy="1586.1" rx="4.6" ry="4.35"/><ellipse cx="601.9" cy="1591.0" rx="4.6" ry="4.35"/><ellipse cx="595.0" cy="1599.1" rx="4.6" ry="4.35"/><ellipse cx="603.6" cy="1604.6" rx="4.6" ry="4.35"/><ellipse cx="595.0" cy="1610.6" rx="4.6" ry="4.35"/><ellipse cx="590.6" cy="1620.8" rx="4.6" ry="4.35"/><ellipse cx="604.2" cy="1625.1" rx="4.6" ry="4.35"/><ellipse cx="595.6" cy="1631.4" rx="4.6" ry="4.35"/><ellipse cx="595.6" cy="1654.6" rx="4.6" ry="4.35"/><ellipse cx="595.6" cy="1665.5" rx="4.6" ry="4.35"/><ellipse cx="595.6" cy="1682.0" rx="4.6" ry="4.35"/><ellipse cx="595.6" cy="1693.6" rx="4.6" ry="4.35"/></g>
<line x1="120.4" y1="1538.6" x2="160.5" y2="1538.6" stroke="#000" stroke-width="2" stroke-dasharray="3.9 1.9"/>
<text x="170.2" y="1544.5" font-size="21.2" text-anchor="start" >Ave. of HS</text>
<text x="0" y="0" font-size="21" text-anchor="start" transform="translate(27.8,1878.6) scale(0.965,1.07)" >Positive:</text>
<text x="0" y="0" font-size="21" text-anchor="middle" transform="translate(153.8,1884.1) scale(0.965,1.06)" >70.4%</text>
<text x="0" y="0" font-size="21" text-anchor="middle" transform="translate(153.8,1911) scale(0.965,1.06)" >SQ</text>
<text x="0" y="0" font-size="21" text-anchor="middle" transform="translate(153.8,1938.6) scale(0.965,1.03)" >(n=27)</text>
<text x="0" y="0" font-size="21" text-anchor="middle" transform="translate(230.4,1884.1) scale(0.965,1.06)" >70.0%</text>
<text x="0" y="0" font-size="21" text-anchor="middle" transform="translate(230.4,1911) scale(0.965,1.06)" >LC</text>
<text x="0" y="0" font-size="21" text-anchor="middle" transform="translate(230.4,1938.6) scale(0.965,1.03)" >(n=10)</text>
<text x="0" y="0" font-size="21" text-anchor="middle" transform="translate(305,1884.1) scale(0.965,1.06)" >22.2%</text>
<text x="0" y="0" font-size="21" text-anchor="middle" transform="translate(305,1911) scale(0.965,1.06)" >GC</text>
<text x="0" y="0" font-size="21" text-anchor="middle" transform="translate(305,1938.6) scale(0.965,1.03)" >(n=18)</text>
<text x="0" y="0" font-size="21" text-anchor="middle" transform="translate(379.6,1884.1) scale(0.965,1.06)" >25.0%</text>
<text x="0" y="0" font-size="21" text-anchor="middle" transform="translate(379.6,1911) scale(0.965,1.06)" >CRC</text>
<text x="0" y="0" font-size="21" text-anchor="middle" transform="translate(379.6,1938.6) scale(0.965,1.03)" >(n=20)</text>
<text x="0" y="0" font-size="21" text-anchor="middle" transform="translate(453.1,1884.1) scale(0.965,1.06)" >38.9%</text>
<text x="0" y="0" font-size="21" text-anchor="middle" transform="translate(453.1,1911) scale(0.965,1.06)" >Pan</text>
<text x="0" y="0" font-size="21" text-anchor="middle" transform="translate(453.1,1938.6) scale(0.965,1.03)" >(n=18)</text>
<text x="0" y="0" font-size="21" text-anchor="middle" transform="translate(529.3,1884.1) scale(0.965,1.06)" >35.0%</text>
<text x="0" y="0" font-size="21" text-anchor="middle" transform="translate(529.3,1911) scale(0.965,1.06)" >Ova</text>
<text x="0" y="0" font-size="21" text-anchor="middle" transform="translate(529.3,1938.6) scale(0.965,1.03)" >(n=20)</text>
<text x="0" y="0" font-size="21" text-anchor="middle" transform="translate(608.3,1884.1) scale(0.965,1.06)" >0.0%</text>
<text x="0" y="0" font-size="21" text-anchor="middle" transform="translate(608.3,1911) scale(0.965,1.06)" >Br</text>
<text x="0" y="0" font-size="21" text-anchor="middle" transform="translate(608.3,1938.6) scale(0.965,1.03)" >(n=20)</text>
<line x1="124.9" y1="1955" x2="258.4" y2="1955" stroke="#000" stroke-width="3" />
<line x1="278.6" y1="1955" x2="635" y2="1955" stroke="#000" stroke-width="3" />
<text x="0" y="0" font-size="21" text-anchor="middle" transform="translate(196,1980.3) scale(0.965,1.08)" >NSCLC</text>
<text x="0" y="0" font-size="21" text-anchor="middle" transform="translate(461,1980.5) scale(0.965,1.07)" >Other cancer</text>
<text x="0" y="0" font-size="21" text-anchor="middle" transform="translate(345.3,2004) scale(0.965,1.01)" >Clinical diagnosis</text>
<text x="0" y="0" font-size="40.55" transform="translate(3.08,26.29) scale(0.921,1)">a</text>
<text x="0" y="0" font-size="41.10" transform="translate(9.53,665.60) scale(0.998,1)">b</text>
<text x="0" y="0" font-size="41.09" transform="translate(336.08,665.19) scale(0.988,1)">c</text>
<text x="0" y="0" font-size="40.82" transform="translate(9.04,1040.30) scale(1.014,1)">d</text>
<text x="0" y="0" font-size="40.36" transform="translate(8.75,1524.20) scale(1.022,1)">e</text>
</svg></body></html>
